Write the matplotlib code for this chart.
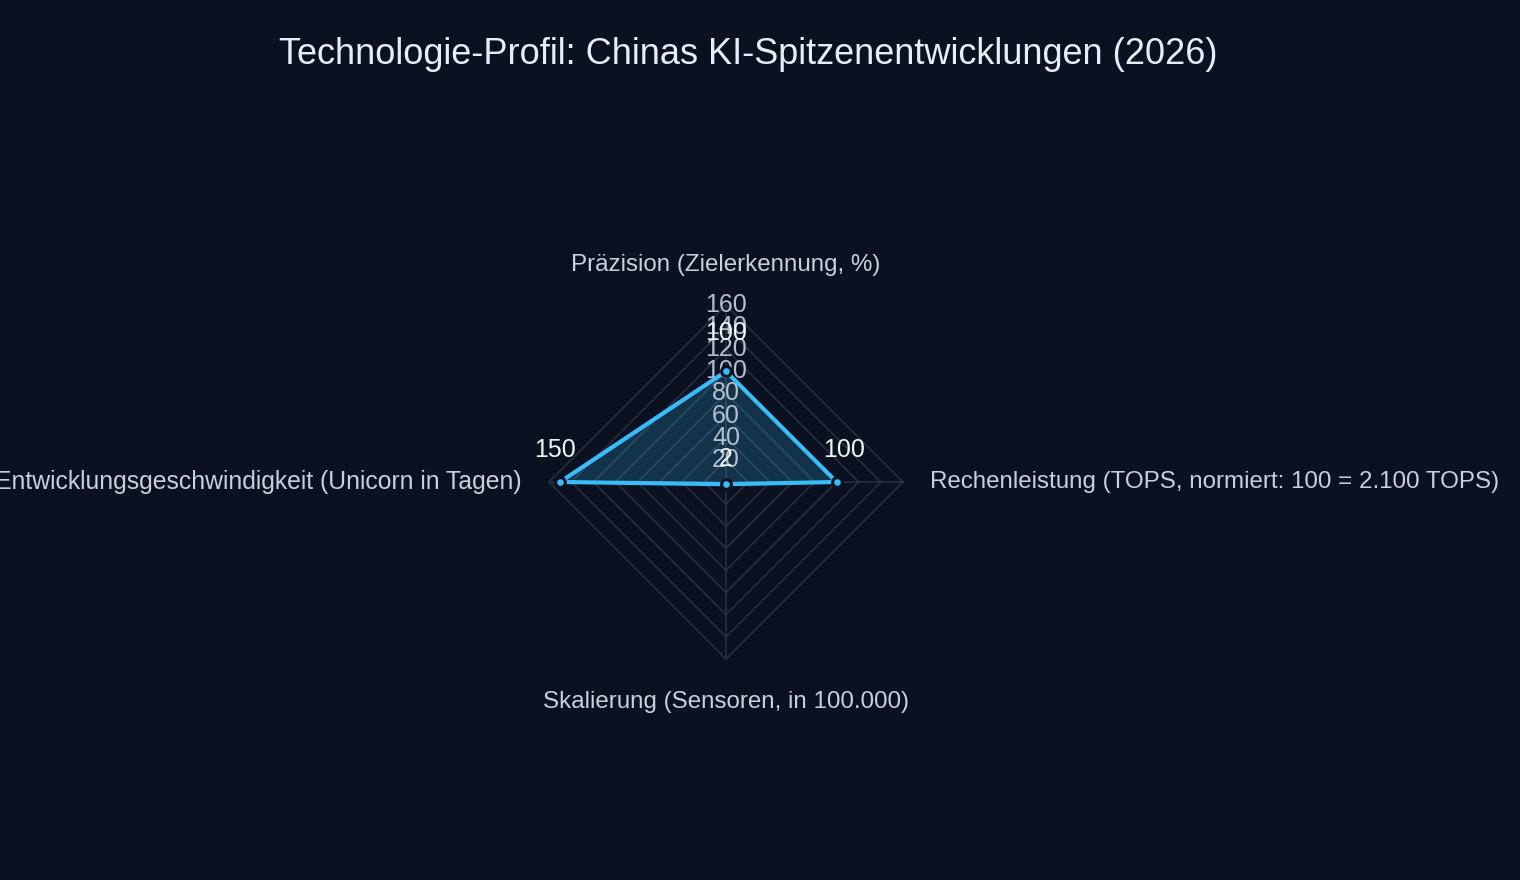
import numpy as np
import matplotlib
matplotlib.use("Agg")
import matplotlib.pyplot as plt

# ---- data ----
categories = [
    "Präzision (Zielerkennung, %)",
    "Rechenleistung (TOPS, normiert: 100 = 2.100 TOPS)",
    "Skalierung (Sensoren, in 100.000)",
    "Entwicklungsgeschwindigkeit (Unicorn in Tagen)",
]
values = [100, 100, 2, 150]
value_labels = ["100", "100", "2", "150"]
radial_ticks = [20, 40, 60, 80, 100, 120, 140, 160]
radial_max = 160
title = "Technologie-Profil: Chinas KI-Spitzenentwicklungen (2026)"

# ---- style ----
BG = "#0b1120"
GRID = "#283244"
LINE = "#38bdf8"
TITLE_C = "#e8edf5"
AXLAB_C = "#c8d0dc"
TICK_C = "#b4bfce"
VAL_C = "#f1f5f9"

plt.rcParams["font.family"] = ["Liberation Sans", "DejaVu Sans"]

W, H = 1520, 880
fig = plt.figure(figsize=(W / 100, H / 100), dpi=100, facecolor=BG)

cx, cy, R = 726, 482, 177
ax = fig.add_axes([(cx - R) / W, (H - cy - R) / H, 2 * R / W, 2 * R / H],
                  projection="polar")
ax.set_theta_zero_location("N")
ax.set_theta_direction(-1)
ax.set_ylim(0, radial_max)
ax.patch.set_visible(False)
ax.spines["polar"].set_visible(False)
ax.grid(False)
ax.set_xticks([])
ax.set_yticks([])

n = len(categories)
theta = np.arange(n) * 2 * np.pi / n
theta_closed = np.append(theta, theta[0])

# polygon grid
for r in radial_ticks:
    ax.plot(theta_closed, [r] * (n + 1), color=GRID, lw=1.1, zorder=1,
            clip_on=False)
# spokes
for t in theta:
    ax.plot([t, t], [0, radial_max], color=GRID, lw=1.1, zorder=1,
            clip_on=False)

# data
vals_closed = values + values[:1]
ax.fill(theta_closed, vals_closed, color=LINE, alpha=0.2, lw=0, zorder=2)
ax.plot(theta_closed, vals_closed, color=LINE, lw=3, zorder=4,
        solid_joinstyle="miter")

# radial tick labels (along top axis)
for r in radial_ticks:
    ax.text(0, r, str(r), color=TICK_C, fontsize=18, ha="center",
            va="center", zorder=3)

ax.plot(theta, values, "o", ms=7, mfc=LINE, mec=BG, mew=2.2, zorder=6,
        linestyle="none")

# value labels above points
label_offsets = [(0, 27.4), (5.5, 23), (0, 18.5), (-3.5, 23)]
for t, v, lab, off in zip(theta, values, value_labels, label_offsets):
    ax.annotate(lab, xy=(t, v), xytext=off, textcoords="offset points",
                color=VAL_C, fontsize=18, ha="center", va="center",
                zorder=7, annotation_clip=False)

# category labels
cat_styles = [((0, 28.8), "center", 17.4), ((19.5, 0), "left", 17.4),
              ((0, -31), "center", 17.4), ((-20, 0), "right", 17.8)]
for t, lab, (off, ha, fs) in zip(theta, categories, cat_styles):
    ax.annotate(lab, xy=(t, radial_max), xytext=off, textcoords="offset points",
                color=AXLAB_C, fontsize=fs, ha=ha, va="center",
                annotation_clip=False)

fig.text(748 / W, 1 - 54 / H, title, color=TITLE_C, fontsize=26,
         ha="center", va="center")

fig.savefig("out.png", dpi=100, facecolor=BG)
